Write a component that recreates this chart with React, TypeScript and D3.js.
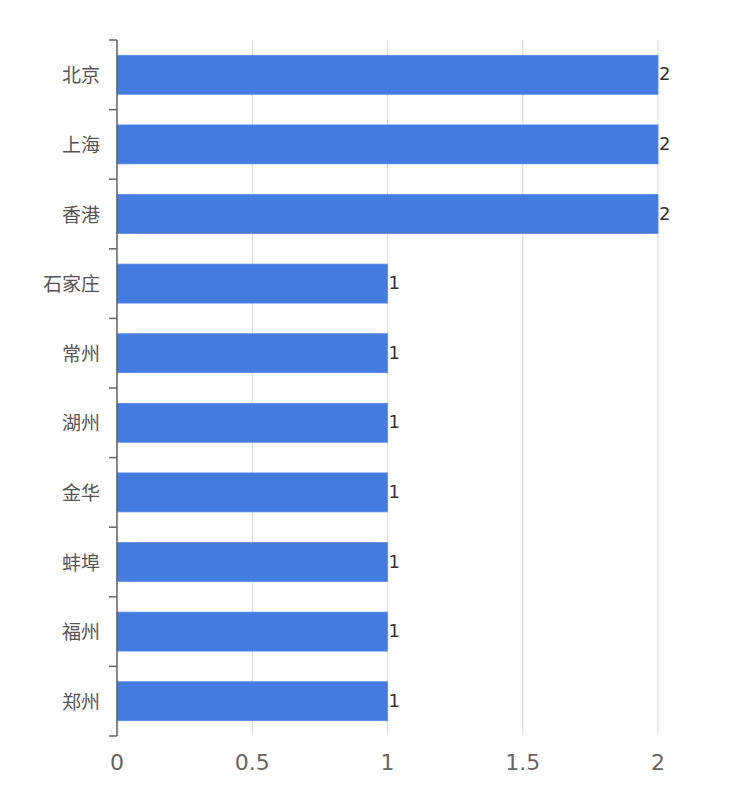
import React from "react";
import * as d3 from "d3";

const categories = ["北京", "上海", "香港", "石家庄", "常州", "湖州", "金华", "蚌埠", "福州", "郑州"];
const values = [2, 2, 2, 1, 1, 1, 1, 1, 1, 1];
const xTicks = [0, 0.5, 1, 1.5, 2];

export default function App() {
  const width = 750, height = 800;
  const left = 117, right = 658, top = 40, bottom = 736;
  const x = d3.scaleLinear().domain([0, 2]).range([left, right]);
  const y = d3.scaleBand<string>().domain(categories).range([top, bottom]).paddingInner(0.44).paddingOuter(0.22);
  const step = y.step();
  const bandStart = (c: string) => (y(c) as number) - step * 0.22;
  const font = "'DejaVu Sans', 'Noto Sans CJK SC', sans-serif";
  return (
    <svg width={width} height={height} style={{ position: "absolute", left: 0, top: 0, fontFamily: font }}>
      {xTicks.map((t) => (
        <line key={"g" + t} x1={x(t)} x2={x(t)} y1={top} y2={bottom - 1} stroke="#e0e0e0" strokeWidth={1.2} />
      ))}
      {categories.map((c, i) => (
        <rect key={c} x={x(0)} y={y(c)} width={x(values[i]) - x(0)} height={y.bandwidth()} fill="#447be0" stroke="#5a8be6" strokeWidth={0.8} />
      ))}
      <line x1={left} x2={left} y1={top} y2={bottom} stroke="#666" strokeWidth={1.5} />
      {categories.map((c) => (
        <line key={"t" + c} x1={left - 8} x2={left} y1={bandStart(c)} y2={bandStart(c)} stroke="#666" strokeWidth={1.5} />
      ))}
      <line x1={left - 8} x2={left} y1={bottom} y2={bottom} stroke="#666" strokeWidth={1.5} />
      {categories.map((c) => (
        <text key={"l" + c} x={100} y={(y(c) as number) + y.bandwidth() / 2 - 1} textAnchor="end" dominantBaseline="central" fontSize={19} fill="#555" fontFamily="'Noto Sans CJK SC', sans-serif">{c}</text>
      ))}
      {categories.map((c, i) => (
        <text key={"v" + c} x={x(values[i]) + 1} y={(y(c) as number) + y.bandwidth() / 2 - 1} dominantBaseline="central" fontSize={18} fill="#333">{values[i]}</text>
      ))}
      {xTicks.map((t) => (
        <text key={"x" + t} x={x(t)} y={770} textAnchor="middle" fontSize={22} fill="#666">{t}</text>
      ))}
    </svg>
  );
}
